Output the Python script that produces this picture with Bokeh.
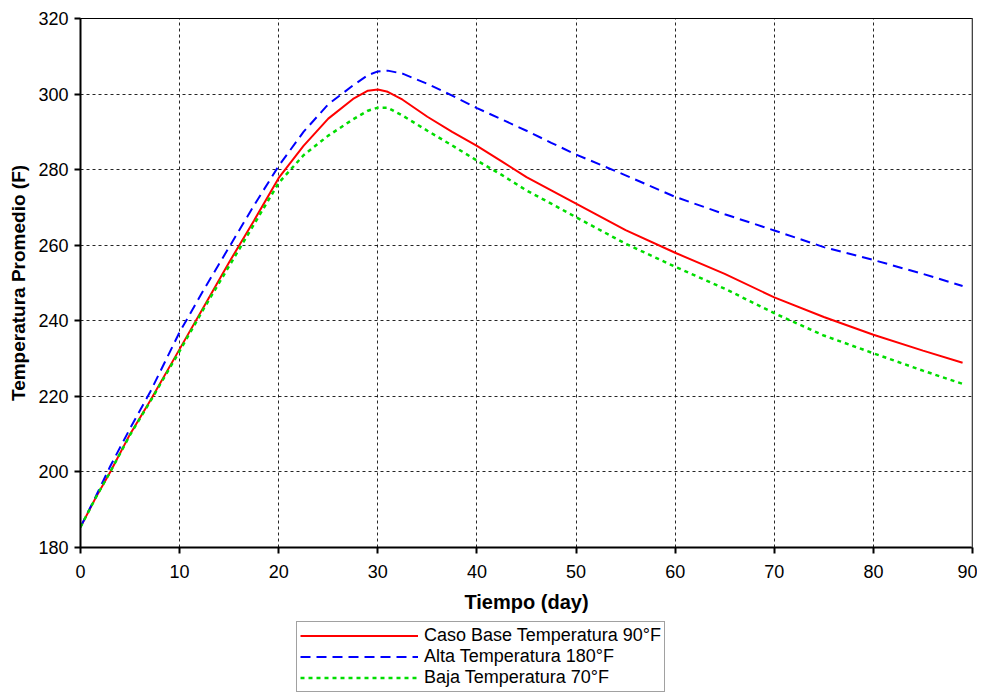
from bokeh.plotting import figure
from bokeh.layouts import column
from bokeh.models import Legend, LegendItem, FixedTicker, Range1d, Span
from bokeh.embed import file_html
from bokeh.resources import INLINE

days = [0, 1.5, 3, 5, 7, 10, 12.5, 15, 17.5, 20, 22.5, 25, 27.5, 29, 30, 31, 32.5,
        35, 37.5, 40, 42.5, 45, 47.5, 50, 55, 60, 65, 70, 75, 80, 85, 89]

base_90F = [185.4, 193.0, 200.0, 210.0, 218.7, 232.5, 244.0, 255.5, 266.5, 277.8, 286.3,
            293.5, 298.7, 300.9, 301.2, 300.6, 298.5, 294.0, 290.0, 286.3, 282.2, 278.0,
            274.5, 271.0, 264.0, 258.0, 252.4, 246.2, 241.0, 236.3, 232.1, 228.9]

alta_180F = [185.4, 193.3, 201.5, 211.5, 221.0, 237.0, 248.5, 259.5, 270.5, 281.0, 290.0,
             297.3, 302.3, 305.0, 306.0, 306.2, 305.4, 302.7, 299.6, 296.3, 293.3, 290.3,
             287.1, 284.0, 278.5, 272.8, 268.2, 263.9, 259.5, 256.1, 252.4, 249.2]

baja_70F = [185.4, 193.0, 200.0, 209.8, 218.5, 232.0, 243.5, 254.5, 265.5, 276.5, 283.8,
            289.0, 293.3, 295.6, 296.4, 296.4, 294.3, 290.3, 286.4, 282.4, 278.6, 274.5,
            271.0, 267.4, 260.4, 254.3, 248.5, 242.0, 236.1, 231.4, 226.8, 223.3]

x_ticks = [0, 10, 20, 30, 40, 50, 60, 70, 80, 90]
y_ticks = [180, 200, 220, 240, 260, 280, 300, 320]

series_labels = ["Caso Base Temperatura 90°F", "Alta Temperatura 180°F", "Baja Temperatura 70°F"]
series_colors = ["#ff0000", "#0000ff", "#00dd00"]
series_dashes = ["solid", "10 6", "4 4"]
series_widths = [2, 2, 2.5]

FONT = "Liberation Sans"

p = figure(width=977, height=620, output_backend="svg", toolbar_location=None,
           x_range=Range1d(0, 90), y_range=Range1d(180, 320),
           min_border_left=80, min_border_right=5, min_border_top=18, min_border_bottom=73)

p.outline_line_color = "black"
p.outline_line_width = 1

for ax in (p.xaxis[0], p.yaxis[0]):
    ax.axis_line_width = 2
    ax.axis_line_color = "black"
    ax.major_tick_line_color = "black"
    ax.major_tick_line_width = 2
    ax.major_tick_out = 6
    ax.major_tick_in = 0
    ax.minor_tick_line_color = None
    ax.major_label_text_font = FONT
    ax.major_label_text_font_size = "18px"
    ax.major_label_text_color = "black"
    ax.axis_label_text_font = FONT
    ax.axis_label_text_font_style = "bold"
    ax.axis_label_text_color = "black"

p.xaxis[0].ticker = FixedTicker(ticks=x_ticks)
p.yaxis[0].ticker = FixedTicker(ticks=y_ticks)
p.xaxis[0].axis_label = "Tiempo (day)"
p.yaxis[0].axis_label = "Temperatura Promedio (F)"
p.xaxis[0].axis_label_text_font_size = "20px"
p.yaxis[0].axis_label_text_font_size = "19px"
p.xaxis[0].major_label_standoff = 11
p.yaxis[0].major_label_standoff = 6
p.xaxis[0].axis_label_standoff = 10
p.yaxis[0].axis_label_standoff = 6

for g in (p.xgrid[0], p.ygrid[0]):
    g.grid_line_color = "black"
    g.grid_line_alpha = 0.85
    g.grid_line_dash = "3 3"
    g.grid_line_width = 1
p.xgrid[0].ticker = FixedTicker(ticks=x_ticks)
p.ygrid[0].ticker = FixedTicker(ticks=y_ticks)

right_edge = Span(location=90, dimension="height", line_color="#888888", line_width=2)
p.add_layout(right_edge)

series = [base_90F, alta_180F, baja_70F]
for vals, c, d, w in zip(series, series_colors, series_dashes, series_widths):
    p.line(days, vals, line_color=c, line_width=w, line_dash=d)

# Legend strip below the chart (its renderers lie outside its own visible range)
lg = figure(width=977, height=72, output_backend="svg", toolbar_location=None,
            x_axis_location=None, y_axis_location=None,
            x_range=Range1d(0, 1), y_range=Range1d(0, 1),
            min_border_left=80, min_border_right=5, min_border_top=0, min_border_bottom=0)
lg.outline_line_color = None
lg.xgrid.visible = False
lg.ygrid.visible = False

items = []
for lab, c, d, w in zip(series_labels, series_colors, series_dashes, series_widths):
    r = lg.line([5, 6], [5, 6], line_color=c, line_width=w, line_dash=d)
    items.append(LegendItem(label=lab, renderers=[r]))

legend = Legend(items=items, location=(216, 0), orientation="vertical",
                glyph_width=118, glyph_height=21, label_height=21,
                label_standoff=6, spacing=0, padding=3, margin=0,
                label_text_font=FONT, label_text_font_size="18px", label_text_color="black",
                border_line_color="#444444", border_line_width=1,
                background_fill_color="white", background_fill_alpha=1)
lg.add_layout(legend)

layout = column(p, lg, spacing=0)

open("out.html", "w").write(file_html(layout, INLINE))
